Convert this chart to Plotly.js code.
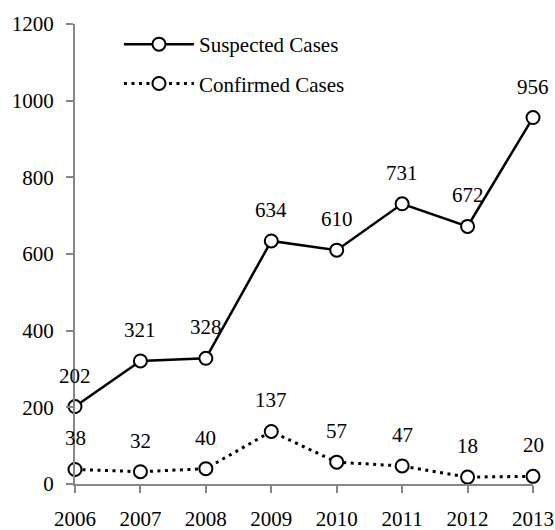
<!DOCTYPE html>
<html>
<head>
<meta charset="utf-8">
<script src="https://cdn.plot.ly/plotly-3.0.1.min.js"></script>
<style>html,body{margin:0;padding:0;background:#fff;}#chart{width:555px;height:530px;}</style>
</head>
<body>
<div id="chart"></div>
<script>
const years = [2006, 2007, 2008, 2009, 2010, 2011, 2012, 2013];
const suspected = [202, 321, 328, 634, 610, 731, 672, 956];
const confirmed = [38, 32, 40, 137, 57, 47, 18, 20];
const seriesNames = ['Suspected Cases', 'Confirmed Cases'];
const yTicks = [0, 200, 400, 600, 800, 1000, 1200];

const FONT = 'Liberation Serif, Times New Roman, serif';
const FS = 21;
const marker = {symbol: 'circle', size: 13, color: '#ffffff', line: {color: '#000000', width: 2}};

const traces = [
  {x: years, y: suspected, name: seriesNames[0], type: 'scatter', mode: 'lines+markers',
   line: {color: '#000000', width: 2.5}, marker: marker, cliponaxis: false, legendgroup: 'a'},
  {x: years, y: confirmed, name: seriesNames[1], type: 'scatter', mode: 'lines+markers',
   line: {color: '#000000', width: 3, dash: '3px,4.5px'}, marker: marker, cliponaxis: false, legendgroup: 'b'}
];

const annotations = [];
[suspected, confirmed].forEach(series => {
  series.forEach((v, i) => {
    annotations.push({x: years[i], y: v, xref: 'x', yref: 'y', text: String(v), showarrow: false,
      yshift: 31, font: {family: FONT, size: FS, color: '#000000'}});
  });
});

const layout = {
  width: 555, height: 530,
  margin: {l: 75, r: 22, t: 24, b: 46},
  paper_bgcolor: '#ffffff', plot_bgcolor: '#ffffff',
  font: {family: FONT, size: FS, color: '#000000'},
  showlegend: true,
  legend: {x: 0.096, y: 1.0, xanchor: 'left', yanchor: 'top', bgcolor: 'rgba(0,0,0,0)',
    font: {family: FONT, size: FS, color: '#000000'}, itemwidth: 70, tracegroupgap: 9,
    traceorder: 'grouped'},
  xaxis: {range: [2006, 2013], tickvals: years, ticktext: years.map(String), showgrid: false, zeroline: false,
    showline: true, linecolor: '#868686', linewidth: 2, ticks: 'outside', ticklen: 7, tickwidth: 2,
    tickcolor: '#868686', ticklabelstandoff: 8, tickfont: {family: FONT, size: FS, color: '#000000'}},
  yaxis: {range: [0, 1200], tickvals: yTicks, showgrid: false, zeroline: false,
    showline: true, linecolor: '#868686', linewidth: 2, ticks: 'outside', ticklen: 7, tickwidth: 2,
    tickcolor: '#868686', ticklabelstandoff: 8, tickfont: {family: FONT, size: FS, color: '#000000'}},
  annotations: annotations
};

Plotly.newPlot('chart', traces, layout, {staticPlot: true, displayModeBar: false});
</script>
</body>
</html>
